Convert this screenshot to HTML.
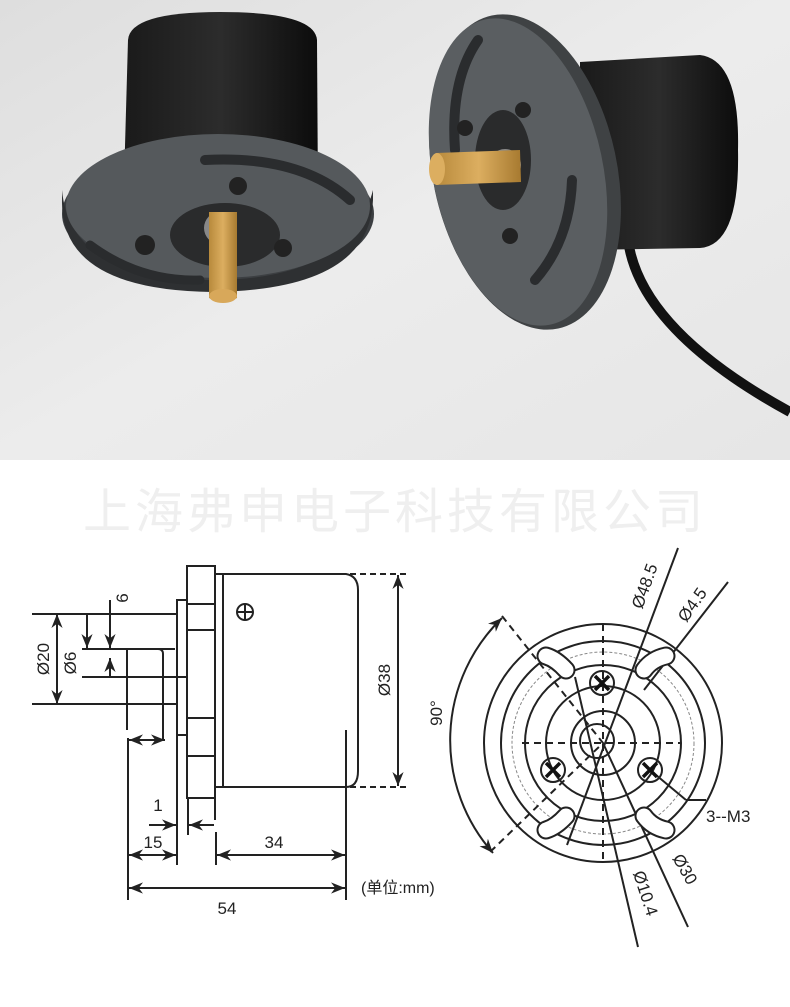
<!DOCTYPE html>
<html><head><meta charset="utf-8"><style>
html,body{margin:0;padding:0;background:#fff;width:790px;height:1007px;overflow:hidden}
svg{display:block}
text{font-family:"Liberation Sans","Noto Sans CJK SC",sans-serif;fill:#222}
</style></head><body>
<svg width="790" height="1007" viewBox="0 0 790 1007" xmlns="http://www.w3.org/2000/svg">
<defs>
<linearGradient id="bg" x1="0" y1="0" x2="1" y2="1"><stop offset="0" stop-color="#dedede"/><stop offset="0.5" stop-color="#ececec"/><stop offset="1" stop-color="#e6e6e6"/></linearGradient>
<linearGradient id="cyl" x1="0" x2="1"><stop offset="0" stop-color="#1a1a1a"/><stop offset="0.5" stop-color="#2c2c2c"/><stop offset="1" stop-color="#0c0c0c"/></linearGradient>
<linearGradient id="gold" x1="0" x2="1"><stop offset="0" stop-color="#b88a3c"/><stop offset="0.5" stop-color="#dcae60"/><stop offset="1" stop-color="#a77a30"/></linearGradient>
<marker id="a" viewBox="0 0 10 10" refX="10" refY="5" markerWidth="7" markerHeight="7" orient="auto-start-reverse"><path d="M0,1 L10,5 L0,9 L3,5z" fill="#222"/></marker>
</defs>
<!-- photo -->
<rect x="0" y="0" width="790" height="460" fill="url(#bg)"/>
<!-- left encoder -->
<path d="M123,217 L128,40 Q130,12 220,12 Q315,12 317,40 L318,200 Z" fill="url(#cyl)"/>
<ellipse cx="218" cy="214" rx="156" ry="72" fill="#3c3f42"/>
<path d="M62,200 Q60,290 212,292 Q370,290 373,200 L373,190 Q350,280 212,280 Q70,280 62,190z" fill="#2e3032"/>
<ellipse cx="218" cy="206" rx="152" ry="72" fill="#55595c"/>
<path d="M205,160 Q300,155 350,200" stroke="#2a2c2e" stroke-width="10" fill="none" stroke-linecap="round"/>
<path d="M90,245 Q140,282 200,280" stroke="#2a2c2e" stroke-width="9" fill="none" stroke-linecap="round"/>
<ellipse cx="225" cy="235" rx="55" ry="32" fill="#2a2b2c"/>
<circle cx="220" cy="228" r="16" fill="#888"/>
<circle cx="238" cy="186" r="9" fill="#222"/><circle cx="145" cy="245" r="10" fill="#222"/><circle cx="283" cy="248" r="9" fill="#222"/>
<path d="M209,212 L237,212 L237,298 Q223,305 209,298z" fill="url(#gold)"/>
<ellipse cx="223" cy="296" rx="14" ry="7" fill="#d8a85a"/>
<!-- right encoder -->
<path d="M628,240 Q640,330 790,412" stroke="#111" stroke-width="10" fill="none"/>
<path d="M580,62 L700,55 Q740,60 738,150 Q740,245 700,248 L580,250z" fill="url(#cyl)"/>
<ellipse cx="525" cy="172" rx="92" ry="160" transform="rotate(-12 525 172)" fill="#3f4244"/>
<ellipse cx="518" cy="172" rx="85" ry="156" transform="rotate(-12 518 172)" fill="#5a5e61"/>
<path d="M478,40 Q450,80 455,150" stroke="#2a2c2e" stroke-width="10" fill="none" stroke-linecap="round"/>
<path d="M572,180 Q570,240 535,280" stroke="#2a2c2e" stroke-width="10" fill="none" stroke-linecap="round"/>
<ellipse cx="503" cy="160" rx="28" ry="50" fill="#2a2b2c"/>
<circle cx="505" cy="165" r="16" fill="#888"/>
<circle cx="523" cy="110" r="8" fill="#222"/><circle cx="465" cy="128" r="8" fill="#222"/><circle cx="510" cy="236" r="8" fill="#222"/>
<path d="M436,153 L520,150 L521,182 L436,185z" fill="url(#gold)"/>
<ellipse cx="437" cy="169" rx="8" ry="16" fill="#dcae60"/>
<!-- watermark -->
<text x="395" y="528" text-anchor="middle" font-size="48" style="fill:#efefef;letter-spacing:4px" font-family="Noto Sans CJK SC, sans-serif">上海弗申电子科技有限公司</text>
<!-- left drawing -->
<g stroke="#222" stroke-width="2" fill="none">
<rect x="187" y="566" width="28" height="232"/>
<line x1="187" y1="604" x2="215" y2="604"/><line x1="187" y1="630" x2="215" y2="630"/>
<line x1="187" y1="718" x2="215" y2="718"/><line x1="187" y1="756" x2="215" y2="756"/>
<rect x="177" y="600" width="10" height="135"/>
<path d="M223,574 L346,574 Q358,576 358,590 L358,771 Q358,787 346,787 L215,787 M223,574 L223,787 M215,574 L223,574"/>
<line x1="346" y1="730" x2="346" y2="900"/>
<line x1="32" y1="614" x2="177" y2="614"/><line x1="32" y1="704" x2="177" y2="704"/>
<line x1="82" y1="649" x2="175" y2="649"/><line x1="82" y1="677" x2="187" y2="677"/>
<path d="M110,649 L158,649 Q163,649 163,654 L163,740"/>
<line x1="127" y1="650" x2="127" y2="730"/>
<line x1="128" y1="738" x2="128" y2="900"/>
<line x1="177" y1="735" x2="177" y2="865"/>
<line x1="188" y1="798" x2="188" y2="835"/>
<line x1="215" y1="798" x2="215" y2="820"/>
<line x1="216" y1="832" x2="216" y2="865"/>
<line x1="57" y1="614" x2="57" y2="704" marker-start="url(#a)" marker-end="url(#a)"/>
<line x1="87" y1="614" x2="87" y2="648" marker-end="url(#a)"/>
<line x1="110" y1="600" x2="110" y2="648" marker-end="url(#a)"/>
<line x1="110" y1="677" x2="110" y2="658" marker-end="url(#a)"/>
<line x1="129" y1="740" x2="165" y2="740" marker-start="url(#a)" marker-end="url(#a)"/>
<line x1="149" y1="825" x2="176" y2="825" marker-end="url(#a)"/>
<line x1="214" y1="825" x2="189" y2="825" marker-end="url(#a)"/>
<line x1="129" y1="855" x2="176" y2="855" marker-start="url(#a)" marker-end="url(#a)"/>
<line x1="217" y1="855" x2="345" y2="855" marker-start="url(#a)" marker-end="url(#a)"/>
<line x1="129" y1="888" x2="345" y2="888" marker-start="url(#a)" marker-end="url(#a)"/>
<line x1="398" y1="575" x2="398" y2="786" marker-start="url(#a)" marker-end="url(#a)"/>
<path d="M350,574 L410,574 M350,787 L410,787" stroke-dasharray="6,4"/>
<circle cx="245" cy="612" r="8"/><path d="M237,612 H253 M245,604 V620"/>
</g>
<text x="158" y="811" font-size="17" text-anchor="middle">1</text>
<text x="153" y="848" font-size="17" text-anchor="middle">15</text>
<text x="274" y="848" font-size="17" text-anchor="middle">34</text>
<text x="227" y="914" font-size="17" text-anchor="middle">54</text>
<text x="361" y="893" font-size="16">(单位:mm)</text>
<text transform="translate(49,659) rotate(-90)" font-size="17" text-anchor="middle">Ø20</text>
<text transform="translate(76,663) rotate(-90)" font-size="17" text-anchor="middle">Ø6</text>
<text transform="translate(128,598) rotate(-90)" font-size="17" text-anchor="middle">6</text>
<text transform="translate(390,680) rotate(-90)" font-size="17" text-anchor="middle">Ø38</text>
<!-- right drawing -->
<g stroke="#222" stroke-width="2" fill="none">
<circle cx="603" cy="743" r="119"/>
<circle cx="603" cy="743" r="102"/>
<circle cx="603" cy="743" r="91" stroke="#888" stroke-width="1" stroke-dasharray="3,2"/>
<circle cx="603" cy="743" r="78"/>
<circle cx="603" cy="743" r="57"/>
<circle cx="603" cy="743" r="32"/>
<circle cx="597" cy="741" r="17"/>
<path d="M603,624 V862 M522,743 H681" stroke-dasharray="7,5"/>
<path d="M502,616 L603,743 L489,853" stroke-dasharray="7,5"/>
<circle cx="602" cy="683" r="12"/><circle cx="553" cy="770" r="12"/><circle cx="650" cy="770" r="12"/>
<line x1="678" y1="548" x2="567" y2="845"/>
<line x1="728" y1="582" x2="644" y2="690"/>
<line x1="575" y1="677" x2="638" y2="947"/>
<line x1="603" y1="743" x2="688" y2="927"/>
<line x1="650" y1="770" x2="686" y2="800"/><line x1="686" y1="800" x2="706" y2="800"/>
<path d="M502,618 A170,170 0 0 0 493,853" marker-start="url(#a)" marker-end="url(#a)"/>
</g>
<g fill="none" stroke-linecap="round">
<g stroke="#222" stroke-width="19">
<path d="M546,656 Q556,659 566,670"/><path d="M666,656 Q652,659 644,670"/>
<path d="M546,830 Q556,827 566,816"/><path d="M666,830 Q652,827 644,816"/>
</g>
<g stroke="#fff" stroke-width="15">
<path d="M546,656 Q556,659 566,670"/><path d="M666,656 Q652,659 644,670"/>
<path d="M546,830 Q556,827 566,816"/><path d="M666,830 Q652,827 644,816"/>
</g>
</g>
<g stroke="#111" stroke-width="3.5">
<path d="M595,676 L609,690 M609,676 L595,690"/>
<path d="M546,763 L560,777 M560,763 L546,777"/>
<path d="M643,763 L657,777 M657,763 L643,777"/>
</g>
<text x="706" y="822" font-size="17">3--M3</text>
<text transform="translate(442,713) rotate(-90)" font-size="17" text-anchor="middle">90°</text>
<text transform="translate(650,588) rotate(-70)" font-size="17" text-anchor="middle">Ø48.5</text>
<text transform="translate(697,608) rotate(-55)" font-size="17" text-anchor="middle">Ø4.5</text>
<text transform="translate(640,895) rotate(72)" font-size="17" text-anchor="middle">Ø10.4</text>
<text transform="translate(680,872) rotate(60)" font-size="17" text-anchor="middle">Ø30</text>
</svg>
</body></html>
